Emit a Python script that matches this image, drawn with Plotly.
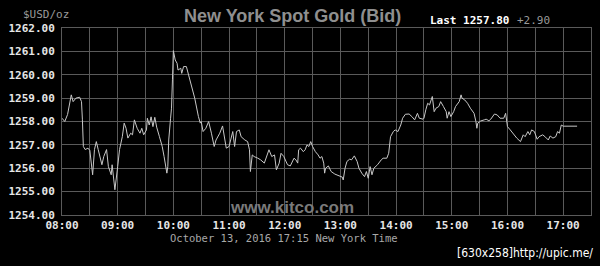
import plotly.graph_objects as go

times = ["08:00","08:03","08:06","08:08","08:10","08:12","08:15","08:19","08:21","08:22",
         "08:23","08:25","08:28","08:30","08:33","08:35","08:37","08:39","08:43","08:45",
         "08:48","08:50","08:53","08:54","08:56","08:57","09:00","09:02","09:05","09:07",
         "09:09","09:11","09:14","09:16","09:18","09:21","09:24","09:26","09:28","09:31",
         "09:32","09:34","09:36","09:38","09:40","09:42","09:45","09:48","09:50","09:52",
         "09:53","09:54","09:55","09:57","09:58","09:59","10:00","10:02","10:04","10:05",
         "10:08","10:09","10:11","10:14","10:17","10:20","10:23","10:27","10:29","10:30",
         "10:32","10:35","10:38","10:41","10:44","10:46","10:50","10:53","10:55","10:57",
         "11:00","11:02","11:04","11:06","11:08","11:11","11:13","11:17","11:20","11:22",
         "11:23","11:25","11:27","11:31","11:34","11:38","11:40","11:43","11:46","11:49",
         "11:51","11:54","11:56","11:59","12:03","12:06","12:10","12:12","12:14","12:15",
         "12:17","12:20","12:22","12:24","12:26","12:28","12:30","12:33","12:36","12:38",
         "12:40","12:42","12:43","12:44","12:47","12:50","12:54","12:58","13:02","13:03",
         "13:05","13:07","13:10","13:12","13:15","13:18","13:20","13:23","13:26","13:28",
         "13:30","13:32","13:34","13:36","13:40","13:44","13:46","13:50","13:52","13:54",
         "13:57","13:59","14:02","14:05","14:07","14:10","14:14","14:17","14:20","14:23",
         "14:25","14:29","14:30","14:32","14:34","14:36","14:38","14:39","14:41","14:43",
         "14:46","14:48","14:51","14:54","14:55","14:57","14:59","15:02","15:04","15:08",
         "15:10","15:11","15:14","15:17","15:20","15:24","15:26","15:27","15:28","15:31",
         "15:35","15:37","15:40","15:42","15:46","15:49","15:52","15:56","15:58","16:00",
         "16:03","16:07","16:10","16:14","16:17","16:19","16:22","16:24","16:26","16:29",
         "16:32","16:34","16:38","16:41","16:44","16:46","16:49","16:52","16:54","16:56",
         "16:58","17:00","17:15"]

bid = [1258.14,1258.00,1258.30,1258.80,1259.14,1258.85,1259.00,1259.04,1258.85,1258.07,
       1256.93,1256.80,1256.86,1256.76,1255.72,1256.80,1257.14,1256.80,1256.15,1256.50,
       1256.80,1256.07,1255.72,1256.15,1255.22,1255.08,1256.07,1256.80,1257.35,1257.93,
       1257.71,1257.29,1257.50,1257.43,1258.07,1257.71,1257.50,1257.71,1257.43,1257.64,
       1258.14,1257.85,1258.20,1257.78,1258.18,1257.76,1257.35,1256.93,1256.50,1256.07,
       1255.79,1256.07,1257.21,1258.14,1258.57,1259.78,1261.03,1260.63,1260.49,1260.20,
       1260.28,1260.06,1260.35,1260.35,1259.92,1259.49,1259.00,1258.21,1257.93,1258.00,
       1257.57,1257.71,1258.00,1257.50,1256.93,1257.21,1257.50,1257.81,1257.35,1256.86,
       1256.93,1257.29,1257.57,1256.93,1257.57,1257.64,1257.35,1257.21,1257.14,1256.79,
       1255.86,1256.57,1256.50,1256.43,1256.36,1256.22,1256.43,1256.79,1256.50,1256.57,
       1255.93,1256.22,1256.64,1256.50,1256.15,1256.10,1256.43,1256.36,1256.22,1256.79,
       1256.86,1256.71,1256.79,1257.00,1256.93,1257.14,1256.93,1256.71,1256.57,1256.43,
       1256.50,1256.22,1255.79,1256.00,1256.10,1255.86,1255.75,1255.68,1255.62,1255.50,
       1256.00,1256.29,1256.39,1256.36,1256.53,1256.29,1256.00,1255.79,1255.64,1255.86,
       1255.57,1256.07,1255.72,1256.00,1256.15,1256.36,1256.43,1256.43,1256.64,1257.35,
       1257.57,1257.64,1257.57,1257.85,1258.14,1258.31,1258.32,1258.21,1258.07,1258.35,
       1258.14,1258.10,1258.14,1258.50,1258.78,1258.71,1259.00,1259.07,1258.42,1258.57,
       1258.64,1258.85,1258.64,1258.42,1258.14,1258.42,1258.21,1258.42,1258.64,1258.85,
       1259.14,1259.00,1258.92,1258.78,1258.57,1258.35,1258.00,1257.71,1257.93,1258.02,
       1258.07,1258.10,1258.03,1258.10,1258.32,1258.28,1258.14,1258.14,1258.35,1257.78,
       1257.64,1257.43,1257.29,1257.14,1257.43,1257.35,1257.57,1257.43,1257.64,1257.57,
       1257.24,1257.35,1257.43,1257.33,1257.21,1257.38,1257.29,1257.35,1257.57,1257.50,
       1257.85,1257.80,1257.80]

y_ticks = [1254, 1255, 1256, 1257, 1258, 1259, 1260, 1261, 1262]
y_tick_labels = ["%.2f" % v for v in y_ticks]
x_tick_labels = ["08:00","09:00","10:00","11:00","12:00","13:00","14:00","15:00","16:00","17:00"]

DAY = "2016-10-13 "
xs = [DAY + t for t in times]

GRID = "#5a5a5a"
MONO = "DejaVu Sans Mono, Liberation Mono, monospace"

fig = go.Figure()
fig.add_trace(go.Scatter(x=xs, y=bid, mode="lines",
                         line=dict(color="#c8c8c8", width=1), hoverinfo="skip"))

fig.update_layout(
    width=600, height=266,
    margin=dict(l=58, r=8, t=28, b=51),
    paper_bgcolor="#000000", plot_bgcolor="#000000",
    showlegend=False,
    xaxis=dict(
        type="date",
        range=[DAY + "08:00", DAY + "17:30"],
        tickvals=[DAY + t for t in x_tick_labels],
        ticktext=x_tick_labels,
        showgrid=True, gridcolor=GRID, gridwidth=1,
        minor=dict(dtick=1800000, showgrid=True, gridcolor=GRID, gridwidth=1),
        showline=True, linecolor=GRID, linewidth=1, mirror=True,
        zeroline=False, ticks="",
        tickfont=dict(family=MONO, size=11, color="#e6e6e6", weight="bold"),
        ticklabelstandoff=0,
    ),
    yaxis=dict(
        range=[1254, 1262],
        tickvals=y_ticks, ticktext=y_tick_labels,
        showgrid=True, gridcolor=GRID, gridwidth=1,
        showline=True, linecolor=GRID, linewidth=1, mirror=True,
        zeroline=False, ticks="",
        tickfont=dict(family=MONO, size=11, color="#e6e6e6", weight="bold"),
        ticklabelstandoff=4,
    ),
)

anns = [
    dict(text="New York Spot Gold (Bid)", x=291, y=16, font=dict(family="Liberation Sans, Arial", size=18, color="#8f8f8f", weight="bold")),
    dict(text="$USD/oz", x=42, y=15, font=dict(family=MONO, size=11, color="#9a9a9a")),
    dict(text="Last 1257.80", x=469, y=20, font=dict(family=MONO, size=11, color="#ffffff", weight="bold")),
    dict(text="+2.90", x=534, y=20, font=dict(family=MONO, size=11, color="#9a9a9a")),
    dict(text="www.kitco.com", x=290, y=207, font=dict(family="Liberation Sans, Arial", size=17, color="#7a7a7a", weight="bold")),
    dict(text="October 13, 2016 17:15 New York Time", x=282, y=238, font=dict(family=MONO, size=10.5, color="#a8a8a8")),
    dict(text="[630x258]http://upic.me/", x=525, y=253, font=dict(family="DejaVu Sans Condensed, sans-serif", size=12, color="#ffffff")),
]
# positions above are picture pixels; convert to paper fractions of the plot area
L, R, T, B = 58, 8, 28, 51
for a in anns:
    fx = (a["x"] - L) / (600 - L - R)
    fy = 1 - (a["y"] - T) / (266 - T - B)
    fig.add_annotation(text=a["text"], x=fx, y=fy,
                       xref="paper", yref="paper", xanchor="center", yanchor="middle",
                       showarrow=False, font=a["font"], borderpad=0)

fig.write_html("out.html")
